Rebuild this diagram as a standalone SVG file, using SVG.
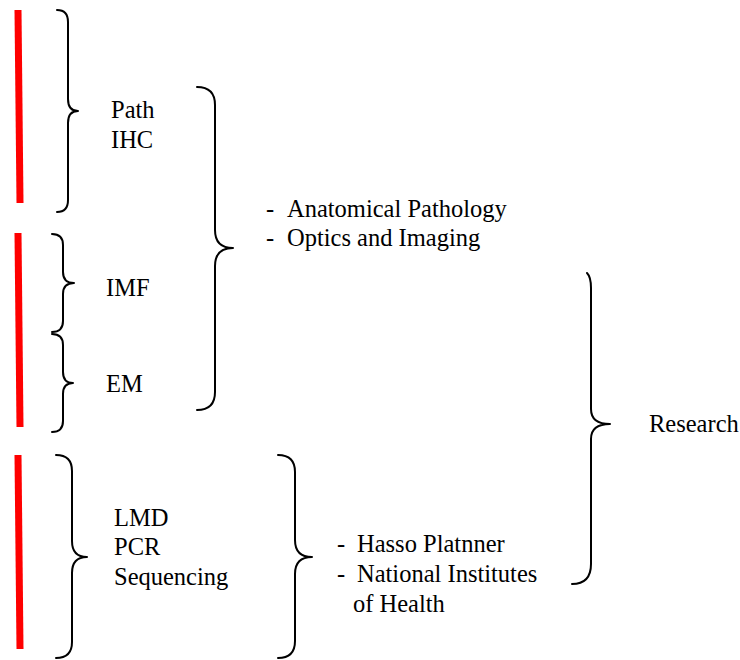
<svg xmlns="http://www.w3.org/2000/svg" width="740" height="660" viewBox="0 0 740 660">
<style>
text{font-family:'Liberation Serif',serif;font-size:24.5px;fill:#000}
.br{fill:none;stroke:#000;stroke-width:2;stroke-linejoin:round;stroke-linecap:round}
.bar{stroke:#ff0000;stroke-width:7;stroke-linecap:butt}
</style>
<rect width="740" height="660" fill="#fff"/>
<g id="bars">
<line class="bar" x1="18" y1="10" x2="20" y2="203"/>
<line class="bar" x1="18" y1="233" x2="20" y2="427"/>
<line class="bar" x1="18" y1="455" x2="20" y2="649"/>
</g>
<g id="connectors">
<path class="br" d="M57,10 Q68,10 68,22 L68,99 Q68,111 78,111 Q68,111 68,123 L68,200 Q68,212 57,212"/>
<path class="br" d="M197,87 Q215,87 215,105 L215,230 Q215,248 233,248 Q215,248 215,266 L215,392 Q215,410 197,410"/>
<path class="br" d="M52,234 Q63,234 63,245 L63,272 Q63,283 74,283 Q63,283 63,294 L63,321 Q63,332 52,332"/>
<path class="br" d="M52,334 Q63,334 63,345 L63,372 Q63,383 73,383 Q63,383 63,394 L63,421 Q63,432 52,432"/>
<path class="br" d="M56,455 Q72,455 72,471 L72,541 Q72,557 87,557 Q72,557 72,573 L72,642 Q72,658 56,658"/>
<path class="br" d="M278,455 Q295,455 295,472 L295,540 Q295,557 312,557 Q295,557 295,574 L295,641 Q295,658 278,658"/>
<path class="br" d="M587,273 Q591,277 591,288 L591,409 Q591,424 610,424 Q591,424 591,439 L591,564 Q591,584 572,584"/>
</g>
<g id="path-ihc" font-family="Liberation Serif">
<text x="111" y="118">Path</text>
<text x="111" y="148">IHC</text>
</g>
<g id="imf" font-family="Liberation Serif"><text x="106" y="296">IMF</text></g>
<g id="em" font-family="Liberation Serif"><text x="106" y="392">EM</text></g>
<g id="lmd-pcr-seq" font-family="Liberation Serif">
<text x="114" y="526">LMD</text>
<text x="114" y="555">PCR</text>
<text x="114" y="585">Sequencing</text>
</g>
<g id="anatomical" font-family="Liberation Serif">
<text x="266" y="217">-</text>
<text x="287" y="217">Anatomical Pathology</text>
<text x="266" y="246">-</text>
<text x="287" y="246">Optics and Imaging</text>
</g>
<g id="funding" font-family="Liberation Serif">
<text x="337" y="552">-</text>
<text x="357" y="552">Hasso Platnner</text>
<text x="337" y="582">-</text>
<text x="357" y="582">National Institutes</text>
<text x="353" y="612">of Health</text>
</g>
<g id="research" font-family="Liberation Serif"><text x="649" y="432">Research</text></g>
</svg>
